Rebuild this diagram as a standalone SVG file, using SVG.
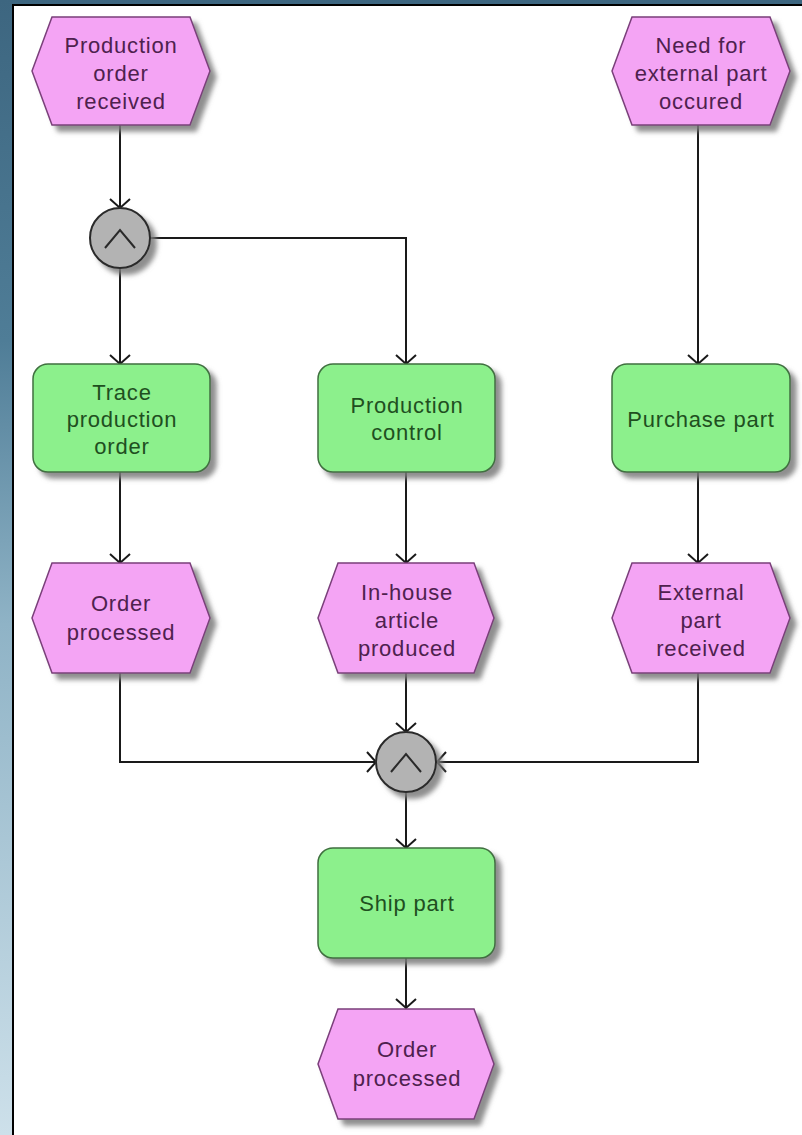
<svg xmlns="http://www.w3.org/2000/svg" width="802" height="1135" viewBox="0 0 802 1135">
  <defs>
    <linearGradient id="bg" x1="0" y1="0" x2="0" y2="1">
      <stop offset="0" stop-color="#3d6680"/>
      <stop offset="0.3" stop-color="#4f7d97"/>
      <stop offset="0.55" stop-color="#8fb3c6"/>
      <stop offset="1" stop-color="#cde0ea"/>
    </linearGradient>
    <filter id="shadow" x="-20%" y="-20%" width="150%" height="150%">
      <feDropShadow dx="6" dy="6" stdDeviation="2.5" flood-color="#7a7a7a" flood-opacity="0.85"/>
    </filter>
    <marker id="arrow" markerUnits="userSpaceOnUse" markerWidth="26" markerHeight="26" viewBox="-13 -13 26 26" refX="0" refY="0" orient="auto">
      <path d="M-9,-10 L0,0 L-9,10" fill="none" stroke="#1a1a1a" stroke-width="2"/>
    </marker>
  </defs>
  <style>
    .event { fill: #f4a4f4; stroke: #7a3f7a; stroke-width: 1.5; filter: url(#shadow); }
    .func { fill: #8cf08c; stroke: #3f6f3f; stroke-width: 1.5; filter: url(#shadow); }
    .gate { fill: #b3b3b3; stroke: #2a2a2a; stroke-width: 2; filter: url(#shadow); }
    .sym { fill: none; stroke: #2a2a2a; stroke-width: 2; }
    .etext { font-family: "Liberation Sans", Arial, sans-serif; font-size: 22px; fill: #4e214e; text-anchor: middle; letter-spacing: 0.8px; }
    .ftext { font-family: "Liberation Sans", Arial, sans-serif; font-size: 22px; fill: #1f4f1f; text-anchor: middle; letter-spacing: 0.8px; }
    .conn { fill: none; stroke: #1a1a1a; stroke-width: 2; marker-end: url(#arrow); }
  </style>

  <!-- page background and frame -->
  <rect x="0" y="0" width="802" height="1135" fill="url(#bg)"/>
  <rect x="14" y="6" width="788" height="1129" fill="#ffffff"/>
  <line x1="13" y1="5" x2="13" y2="1135" stroke="#000" stroke-width="2"/>
  <line x1="12" y1="5" x2="802" y2="5" stroke="#000" stroke-width="2"/>

  <!-- connectors -->
  <g id="connectors">
    <path class="conn" d="M120,125 L120,208"/>
    <path class="conn" d="M120,268 L120,364"/>
    <path class="conn" d="M150,238 L406,238 L406,364"/>
    <path class="conn" d="M698,125 L698,364"/>
    <path class="conn" d="M120,472 L120,563"/>
    <path class="conn" d="M406,472 L406,563"/>
    <path class="conn" d="M698,472 L698,563"/>
    <path class="conn" d="M120,673 L120,762 L376,762"/>
    <path class="conn" d="M406,673 L406,732"/>
    <path class="conn" d="M698,673 L698,762 L437,762"/>
    <path class="conn" d="M406,792 L406,848"/>
    <path class="conn" d="M406,958 L406,1008"/>
  </g>

  <!-- events -->
  <g id="ev-production-order-received">
    <polygon class="event" points="52,17 190,17 210,71 190,125 52,125 32,71"/>
    <text class="etext" x="121" y="53">Production</text>
    <text class="etext" x="121" y="81">order</text>
    <text class="etext" x="121" y="109">received</text>
  </g>
  <g id="ev-need-external-part">
    <polygon class="event" points="632,17 770,17 790,71 770,125 632,125 612,71"/>
    <text class="etext" x="701" y="53">Need for</text>
    <text class="etext" x="701" y="81">external part</text>
    <text class="etext" x="701" y="109">occured</text>
  </g>
  <g id="ev-order-processed-1">
    <polygon class="event" points="52,563 190,563 210,618 190,673 52,673 32,618"/>
    <text class="etext" x="121" y="611">Order</text>
    <text class="etext" x="121" y="640">processed</text>
  </g>
  <g id="ev-inhouse-article-produced">
    <polygon class="event" points="338,563 474,563 494,618 474,673 338,673 318,618"/>
    <text class="etext" x="407" y="600">In-house</text>
    <text class="etext" x="407" y="628">article</text>
    <text class="etext" x="407" y="656">produced</text>
  </g>
  <g id="ev-external-part-received">
    <polygon class="event" points="632,563 770,563 790,618 770,673 632,673 612,618"/>
    <text class="etext" x="701" y="600">External</text>
    <text class="etext" x="701" y="628">part</text>
    <text class="etext" x="701" y="656">received</text>
  </g>
  <g id="ev-order-processed-2">
    <polygon class="event" points="338,1009 474,1009 494,1064 474,1119 338,1119 318,1064"/>
    <text class="etext" x="407" y="1057">Order</text>
    <text class="etext" x="407" y="1086">processed</text>
  </g>

  <!-- functions -->
  <g id="fn-trace-production-order">
    <rect class="func" x="33" y="364" width="177" height="108" rx="15" ry="15"/>
    <text class="ftext" x="122" y="400">Trace</text>
    <text class="ftext" x="122" y="427">production</text>
    <text class="ftext" x="122" y="454">order</text>
  </g>
  <g id="fn-production-control">
    <rect class="func" x="318" y="364" width="177" height="108" rx="15" ry="15"/>
    <text class="ftext" x="407" y="413">Production</text>
    <text class="ftext" x="407" y="440">control</text>
  </g>
  <g id="fn-purchase-part">
    <rect class="func" x="612" y="364" width="178" height="108" rx="15" ry="15"/>
    <text class="ftext" x="701" y="427">Purchase part</text>
  </g>
  <g id="fn-ship-part">
    <rect class="func" x="318" y="848" width="177" height="110" rx="15" ry="15"/>
    <text class="ftext" x="407" y="911">Ship part</text>
  </g>

  <!-- AND connectors -->
  <g id="and-split">
    <circle class="gate" cx="120" cy="238" r="30"/>
    <polyline class="sym" points="105,248 120,230 135,248"/>
  </g>
  <g id="and-join">
    <circle class="gate" cx="406" cy="762" r="30"/>
    <polyline class="sym" points="391,772 406,754 421,772"/>
  </g>
</svg>
